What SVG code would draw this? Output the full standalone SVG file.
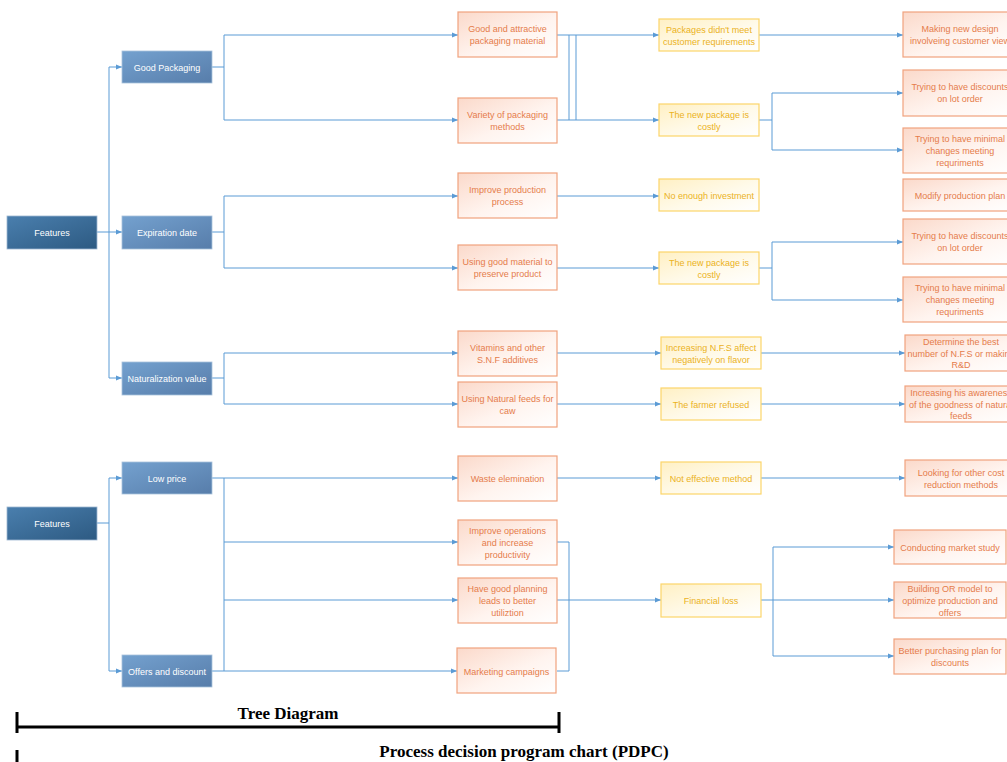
<svg xmlns="http://www.w3.org/2000/svg" width="1007" height="762" viewBox="0 0 1007 762">
<defs>
<linearGradient id="gDark" x1="0" y1="0" x2="1" y2="1"><stop offset="0" stop-color="#4a7fae"/><stop offset="1" stop-color="#2d5a82"/></linearGradient>
<linearGradient id="gBlue" x1="0" y1="0" x2="1" y2="1"><stop offset="0" stop-color="#74a1cf"/><stop offset="1" stop-color="#577daa"/></linearGradient>
<linearGradient id="gOr" x1="0" y1="0" x2="1" y2="1"><stop offset="0" stop-color="#fbd9ca"/><stop offset="0.55" stop-color="#fff4ef"/><stop offset="1" stop-color="#ffffff"/></linearGradient>
<linearGradient id="gYe" x1="0" y1="0" x2="1" y2="1"><stop offset="0" stop-color="#fff0c4"/><stop offset="0.55" stop-color="#fffaea"/><stop offset="1" stop-color="#ffffff"/></linearGradient>
<marker id="arr" markerWidth="6" markerHeight="6" refX="6" refY="3" orient="auto" markerUnits="userSpaceOnUse"><path d="M0,0.5 L6,3 L0,5.5 z" fill="#5b9bd5"/></marker>
</defs>
<style>
.dk{fill:url(#gDark);stroke:#9db7d1;stroke-width:0.8}
.bl{fill:url(#gBlue);stroke:#a9c2dc;stroke-width:0.8}
.or{fill:url(#gOr);stroke:#f0a27e;stroke-width:1.2}
.ye{fill:url(#gYe);stroke:#fcd56a;stroke-width:1.2}
.tw{font-family:"Liberation Sans",Arial,sans-serif;font-size:9px;fill:#ffffff;text-anchor:middle;dominant-baseline:central}
.to{font-family:"Liberation Sans",Arial,sans-serif;font-size:9px;fill:#e57c4b;text-anchor:middle;dominant-baseline:central}
.ty{font-family:"Liberation Sans",Arial,sans-serif;font-size:9px;fill:#ebb21c;text-anchor:middle;dominant-baseline:central}
.c{fill:none;stroke:#5b9bd5;stroke-width:1}
.ca{fill:none;stroke:#5b9bd5;stroke-width:1;marker-end:url(#arr)}
.hd{font-family:"Liberation Serif","Times New Roman",serif;font-size:17px;font-weight:bold;fill:#000;text-anchor:middle}
.bar{stroke:#000;fill:none}
</style>

<g id="connectors">
<path class="c" d="M97,232 H109"/>
<path class="c" d="M109,67 V378"/>
<path class="ca" d="M109,67 H122"/>
<path class="ca" d="M109,232 H122"/>
<path class="ca" d="M109,378 H122"/>
<path class="c" d="M212,67 H224 M224,35 V120"/>
<path class="ca" d="M224,35 H458"/>
<path class="ca" d="M224,120 H458"/>
<path class="c" d="M212,232 H224 M224,196 V268"/>
<path class="ca" d="M224,196 H458"/>
<path class="ca" d="M224,268 H458"/>
<path class="c" d="M212,378 H224 M224,353 V404"/>
<path class="ca" d="M224,353 H458"/>
<path class="ca" d="M224,404 H458"/>
<path class="ca" d="M557,35 H659"/>
<path class="ca" d="M557,120 H659"/>
<path class="c" d="M569,35 V120 M576,35 V120"/>
<path class="ca" d="M557,196 H659"/>
<path class="ca" d="M557,268 H659"/>
<path class="ca" d="M557,353 H661"/>
<path class="ca" d="M557,404 H661"/>
<path class="ca" d="M557,478 H661"/>
<path class="ca" d="M759,35 H903"/>
<path class="c" d="M759,120 H772 M772,93 V150"/>
<path class="ca" d="M772,93 H903"/>
<path class="ca" d="M772,150 H903"/>
<path class="c" d="M759,268 H772 M772,242 V300"/>
<path class="ca" d="M772,242 H903"/>
<path class="ca" d="M772,300 H903"/>
<path class="ca" d="M761,353 H905"/>
<path class="ca" d="M761,404 H905"/>
<path class="ca" d="M761,478 H905"/>
<path class="c" d="M97,523 H109 M109,478 V671"/>
<path class="ca" d="M109,478 H122"/>
<path class="ca" d="M109,671 H122"/>
<path class="c" d="M212,478 H224 M212,671 H224 M224,478 V671"/>
<path class="ca" d="M224,478 H458"/>
<path class="ca" d="M224,542 H458"/>
<path class="ca" d="M224,600 H458"/>
<path class="ca" d="M224,671 H457"/>
<path class="c" d="M557,542 H569 V671 H557"/>
<path class="ca" d="M557,600 H661"/>
<path class="c" d="M761,600 H773 M773,547 V656"/>
<path class="ca" d="M773,547 H894"/>
<path class="ca" d="M773,600 H894"/>
<path class="ca" d="M773,656 H894"/>
</g>

<g id="features1"><rect class="dk" x="7" y="216" width="90" height="33"/><text class="tw" x="52" y="232.5">Features</text></g>
<g id="good-packaging"><rect class="bl" x="122" y="51" width="90" height="32"/><text class="tw" x="167" y="67.5">Good Packaging</text></g>
<g id="expiration-date"><rect class="bl" x="122" y="216" width="90" height="33"/><text class="tw" x="167" y="232.5">Expiration date</text></g>
<g id="naturalization-value"><rect class="bl" x="122" y="362" width="90" height="33"/><text class="tw" x="167" y="378.5">Naturalization value</text></g>
<g id="features2"><rect class="dk" x="7" y="507" width="90" height="33"/><text class="tw" x="52" y="523.5">Features</text></g>
<g id="low-price"><rect class="bl" x="122" y="462" width="90" height="32"/><text class="tw" x="167" y="478.5">Low price</text></g>
<g id="offers-discount"><rect class="bl" x="122" y="655" width="90" height="32"/><text class="tw" x="167" y="671.5">Offers and discount</text></g>

<g id="c2-1"><rect class="or" x="458" y="12" width="99" height="45"/><text class="to" x="507.5" y="29">Good and attractive</text><text class="to" x="507.5" y="41">packaging material</text></g>
<g id="c2-2"><rect class="or" x="458" y="98" width="99" height="45"/><text class="to" x="507.5" y="114.5">Variety of packaging</text><text class="to" x="507.5" y="126.5">methods</text></g>
<g id="c2-3"><rect class="or" x="458" y="173" width="99" height="45"/><text class="to" x="507.5" y="190">Improve production</text><text class="to" x="507.5" y="202">process</text></g>
<g id="c2-4"><rect class="or" x="458" y="245" width="99" height="45"/><text class="to" x="507.5" y="262">Using good material to</text><text class="to" x="507.5" y="274">preserve product</text></g>
<g id="c2-5"><rect class="or" x="458" y="331" width="99" height="45"/><text class="to" x="507.5" y="347.5">Vitamins and other</text><text class="to" x="507.5" y="359.5">S.N.F additives</text></g>
<g id="c2-6"><rect class="or" x="458" y="382" width="99" height="45"/><text class="to" x="507.5" y="399">Using Natural feeds for</text><text class="to" x="507.5" y="411">caw</text></g>
<g id="c2-7"><rect class="or" x="458" y="456" width="99" height="45"/><text class="to" x="507.5" y="478.5">Waste elemination</text></g>
<g id="c2-8"><rect class="or" x="458" y="520" width="99" height="45"/><text class="to" x="507.5" y="531">Improve operations</text><text class="to" x="507.5" y="543">and increase</text><text class="to" x="507.5" y="555">productivity</text></g>
<g id="c2-9"><rect class="or" x="458" y="578" width="99" height="45"/><text class="to" x="507.5" y="589">Have good planning</text><text class="to" x="507.5" y="601">leads to better</text><text class="to" x="507.5" y="613">utiliztion</text></g>
<g id="c2-10"><rect class="or" x="457" y="648" width="99" height="45"/><text class="to" x="506.5" y="671.5">Marketing campaigns</text></g>

<g id="c3-1"><rect class="ye" x="659" y="19" width="100" height="32"/><text class="ty" x="709" y="29.5">Packages didn't meet</text><text class="ty" x="709" y="41.5">customer requirements</text></g>
<g id="c3-2"><rect class="ye" x="659" y="104" width="100" height="32"/><text class="ty" x="709" y="114.5">The new package is</text><text class="ty" x="709" y="126.5">costly</text></g>
<g id="c3-3"><rect class="ye" x="659" y="179" width="100" height="32"/><text class="ty" x="709" y="195.5">No enough investment</text></g>
<g id="c3-4"><rect class="ye" x="659" y="252" width="100" height="32"/><text class="ty" x="709" y="262.5">The new package is</text><text class="ty" x="709" y="274.5">costly</text></g>
<g id="c3-5"><rect class="ye" x="661" y="337" width="100" height="32"/><text class="ty" x="711" y="347.5">Increasing N.F.S affect</text><text class="ty" x="711" y="359.5">negatively on flavor</text></g>
<g id="c3-6"><rect class="ye" x="661" y="388" width="100" height="32"/><text class="ty" x="711" y="404.5">The farmer refused</text></g>
<g id="c3-7"><rect class="ye" x="661" y="462" width="100" height="32"/><text class="ty" x="711" y="478.5">Not effective method</text></g>
<g id="c3-8"><rect class="ye" x="661" y="584" width="100" height="33"/><text class="ty" x="711" y="600.5">Financial loss</text></g>

<g id="c4-1"><rect class="or" x="903" y="12" width="114" height="45"/><text class="to" x="960" y="29">Making new design</text><text class="to" x="960" y="41">involveing customer view</text></g>
<g id="c4-2"><rect class="or" x="903" y="70" width="114" height="46"/><text class="to" x="960" y="87">Trying to have discounts</text><text class="to" x="960" y="99">on lot order</text></g>
<g id="c4-3"><rect class="or" x="903" y="128" width="114" height="45"/><text class="to" x="960" y="139">Trying to have minimal</text><text class="to" x="960" y="151">changes  meeting</text><text class="to" x="960" y="163">requriments</text></g>
<g id="c4-4"><rect class="or" x="903" y="179" width="114" height="32"/><text class="to" x="960" y="195.5">Modify production plan</text></g>
<g id="c4-5"><rect class="or" x="903" y="219" width="114" height="45"/><text class="to" x="960" y="236">Trying to have discounts</text><text class="to" x="960" y="248">on lot order</text></g>
<g id="c4-6"><rect class="or" x="903" y="277" width="114" height="45"/><text class="to" x="960" y="288">Trying to have minimal</text><text class="to" x="960" y="300">changes  meeting</text><text class="to" x="960" y="312">requriments</text></g>
<g id="c4-7"><rect class="or" x="905" y="335" width="114" height="36"/><text class="to" x="961" y="341.5">Determine the best</text><text class="to" x="961" y="353.5">number of N.F.S or making</text><text class="to" x="961" y="365">R&amp;D</text></g>
<g id="c4-8"><rect class="or" x="905" y="386" width="114" height="36"/><text class="to" x="961" y="392.5">Increasing his awareness</text><text class="to" x="961" y="404.5">of the goodness of natural</text><text class="to" x="961" y="416">feeds</text></g>
<g id="c4-9"><rect class="or" x="905" y="460" width="114" height="36"/><text class="to" x="961" y="473">Looking for other cost</text><text class="to" x="961" y="485">reduction methods</text></g>
<g id="c4-10"><rect class="or" x="894" y="530" width="112" height="34"/><text class="to" x="950" y="547.5">Conducting market study</text></g>
<g id="c4-11"><rect class="or" x="894" y="582" width="112" height="36"/><text class="to" x="950" y="589">Building OR model to</text><text class="to" x="950" y="601">optimize production and</text><text class="to" x="950" y="613">offers</text></g>
<g id="c4-12"><rect class="or" x="894" y="639" width="112" height="35"/><text class="to" x="950" y="651">Better purchasing plan for</text><text class="to" x="950" y="663">discounts</text></g>

<g id="annotations">
<path class="bar" stroke-width="3" d="M17,727 H559"/>
<path class="bar" stroke-width="3" d="M17,712 V733 M559,712 V733"/>
<path class="bar" stroke-width="3" d="M17,750 V762"/>
<text class="hd" x="288" y="719">Tree Diagram</text>
<text class="hd" x="524" y="757">Process decision program chart (PDPC)</text>
</g>
</svg>
